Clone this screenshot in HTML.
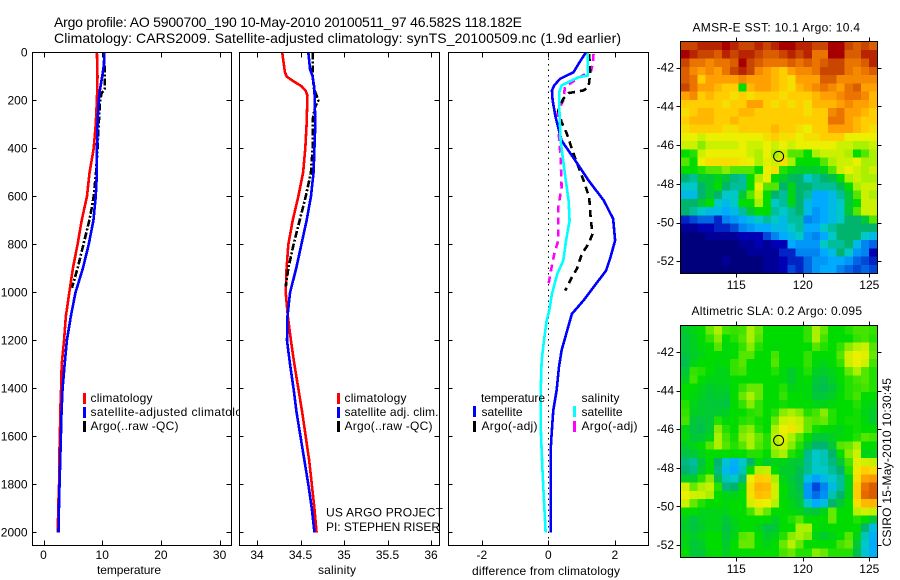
<!DOCTYPE html>
<html lang="en">
<head>
<meta charset="utf-8">
<title>Argo profile 5900700_190</title>
<style>
html,body{margin:0;padding:0;background:#fff;width:900px;height:580px;overflow:hidden}
svg{display:block;font-family:"Liberation Sans",sans-serif;font-size:12px;fill:#000}
text{fill:#000}
.ttl{font-size:14px}
.crisp{shape-rendering:crispEdges}
</style>
</head>
<body>
<svg id="chart" xmlns="http://www.w3.org/2000/svg" width="900" height="580" viewBox="0 0 900 580">
  <rect x="0" y="0" width="900" height="580" fill="#fff"/>
  <text class="ttl" x="54" y="27" textLength="468">Argo profile: AO 5900700_190 10-May-2010 20100511_97 46.582S 118.182E</text>
  <text class="ttl" x="54" y="43" textLength="567">Climatology: CARS2009. Satellite-adjusted climatology: synTS_20100509.nc (1.9d earlier)</text>

  <g id="p1">
    <rect x="32.5" y="52.5" width="199" height="493" fill="#fff"/>
    <g id="p1-series"></g>
    <g id="p1-axis"></g>
    <text x="129" y="574" text-anchor="middle" textLength="64">temperature</text>
    <rect x="83" y="393" width="3" height="11" fill="#f00" class="crisp"/>
    <rect x="83" y="407" width="3" height="11" fill="#00f" class="crisp"/>
    <rect x="83" y="421" width="3" height="11" fill="#000" class="crisp"/>
    <text x="90.5" y="402" textLength="62">climatology</text>
    <text x="90.5" y="416" textLength="165">satellite-adjusted climatology</text>
    <text x="90.5" y="430" textLength="88">Argo(..raw -QC)</text>
  </g>

  <g id="p2">
    <rect x="239.5" y="52.5" width="200" height="493" fill="#fff"/>
    <g id="p2-series"></g>
    <g id="p2-axis"></g>
    <text x="337" y="574" text-anchor="middle" textLength="38">salinity</text>
    <rect x="337" y="393" width="3" height="11" fill="#f00" class="crisp"/>
    <rect x="337" y="407" width="3" height="11" fill="#00f" class="crisp"/>
    <rect x="337" y="421" width="3" height="11" fill="#000" class="crisp"/>
    <text x="344.5" y="402" textLength="62">climatology</text>
    <text x="344.5" y="416" textLength="94">satellite adj. clim.</text>
    <text x="344.5" y="430" textLength="88">Argo(..raw -QC)</text>
    <text x="326" y="516.5" textLength="117">US ARGO PROJECT</text>
    <text x="326" y="531" textLength="114">PI: STEPHEN RISER</text>
  </g>

  <g id="p3">
    <rect x="448.5" y="52.5" width="200" height="493" fill="#fff"/>
    <line x1="548.5" y1="53" x2="548.5" y2="545" stroke="#000" stroke-width="1" stroke-dasharray="1.5 4" class="crisp"/>
    <g id="p3-series"></g>
    <g id="p3-axis"></g>
    <text x="546" y="575" text-anchor="middle" textLength="148">difference from climatology</text>
    <text x="481" y="402" textLength="64">temperature</text>
    <text x="481.5" y="416" textLength="41">satellite</text>
    <text x="481.5" y="430" textLength="56">Argo(-adj)</text>
    <text x="581.5" y="402" textLength="38">salinity</text>
    <text x="581.5" y="416" textLength="41">satellite</text>
    <text x="581.5" y="430" textLength="56">Argo(-adj)</text>
    <rect x="473" y="406" width="3" height="11" fill="#00f" class="crisp"/>
    <rect x="473" y="421" width="3" height="11" fill="#000" class="crisp"/>
    <rect x="573" y="406" width="3" height="11" fill="#0ff" class="crisp"/>
    <rect x="573" y="421" width="3" height="11" fill="#f0f" class="crisp"/>
  </g>

  <g id="m1">
    <text x="692.5" y="31.5" textLength="167.5">AMSR-E SST: 10.1 Argo: 10.4</text>
    <g id="m1-cells"></g>
    <g id="m1-axis"></g>
  </g>
  <g id="m2">
    <text x="691.5" y="315" textLength="170.5">Altimetric SLA: 0.2 Argo: 0.095</text>
    <g id="m2-cells"></g>
    <g id="m2-axis"></g>
  </g>
  <text transform="translate(891,546.5) rotate(-90)" textLength="168.5">CSIRO 15-May-2010 10:30:45</text>
</svg>

<script>
// ---- tick labels
const depthTicks = [0, 200, 400, 600, 800, 1000, 1200, 1400, 1600, 1800, 2000];
const tempTicks = [0, 10, 20, 30];
const salTicks = [34, 34.5, 35, 35.5, 36];
const salTickLabels = ['34', '34.5', '35', '35.5', '36'];
const diffTicks = [-2, 0, 2];
const lonTicks = [115, 120, 125];
const latTicks = [-42, -44, -46, -48, -50, -52];

// ---- temperature profiles
const profileDepths = [0, 100, 200, 300, 400, 450, 500, 600, 700, 800, 900, 1000, 1100, 1200, 1300, 1400, 1500, 1600, 1700, 1800, 1900, 2000];
const tempClimatology = [9.1, 9.2, 9.1, 8.9, 8.55, 8.2, 7.85, 7.4, 6.5, 5.8, 5.0, 4.4, 3.8, 3.5, 3.1, 3.0, 2.85, 2.8, 2.65, 2.65, 2.5, 2.45];
const tempSatelliteDepths = [0, 50, 100, 150, 200, 300, 400, 500, 600, 650, 700, 800, 900, 1000, 1100, 1200, 1300, 1400, 1500, 1600, 1700, 1800, 1900, 2000];
const tempSatellite = [10.35, 10.3, 10.0, 9.65, 9.4, 9.2, 9.1, 9.1, 8.9, 8.7, 8.5, 7.7, 6.7, 5.45, 4.65, 3.98, 3.6, 3.25, 3.07, 2.96, 2.85, 2.73, 2.63, 2.55];
const argoDepths = [0, 150, 170, 200, 300, 400, 500, 600, 650, 700, 800, 900, 980];
const tempArgo = [10.35, 10.45, 9.9, 9.65, 9.4, 9.2, 8.95, 8.55, 8.2, 7.8, 6.8, 5.8, 4.85];

// ---- salinity profiles
const salClimDepths = [0, 80, 100, 120, 140, 160, 180, 300, 400, 500, 600, 700, 800, 900, 1000, 1100, 1200, 1300, 1400, 1500, 1600, 1700, 1800, 1900, 2000];
const salClimatology = [34.29, 34.32, 34.34, 34.42, 34.51, 34.56, 34.58, 34.57, 34.555, 34.53, 34.475, 34.41, 34.36, 34.34, 34.33, 34.355, 34.39, 34.43, 34.475, 34.52, 34.56, 34.6, 34.63, 34.66, 34.685];
const salSatDepths = [0, 70, 100, 150, 300, 400, 500, 600, 700, 800, 900, 1000, 1100, 1200, 1300, 1400, 1500, 1600, 1700, 1800, 1900, 2000];
const salSatellite = [34.59, 34.61, 34.64, 34.66, 34.67, 34.66, 34.65, 34.62, 34.57, 34.51, 34.45, 34.38, 34.35, 34.345, 34.38, 34.42, 34.455, 34.5, 34.545, 34.59, 34.63, 34.66];
const salArgoDepths = [0, 100, 150, 200, 230, 280, 400, 500, 600, 700, 800, 900, 975];
const salArgo = [34.64, 34.64, 34.655, 34.705, 34.665, 34.64, 34.64, 34.62, 34.56, 34.49, 34.42, 34.36, 34.33];

// ---- differences from climatology
const diffTempSatDepths = [0, 47, 82, 110, 137, 158, 200, 270, 367, 450, 533, 617, 693, 783, 853, 908, 978, 1033, 1089, 1172, 1241, 1311, 1408, 1491, 1589, 1658, 2000];
const diffTempSat = [1.13, 0.91, 0.76, 0.35, 0.18, 0.11, 0.13, 0.22, 0.40, 0.81, 1.21, 1.67, 1.95, 2.01, 1.87, 1.74, 1.36, 1.06, 0.71, 0.54, 0.40, 0.32, 0.25, 0.15, 0.10, 0.07, 0.07];
const diffSalSatDepths = [0, 96, 103, 137, 165, 228, 367, 506, 617, 700, 783, 867, 922, 1005, 1075, 1116, 1200, 1283, 1422, 1589, 1727, 1866, 2000];
const diffSalSat = [1.19, 1.19, 0.91, 0.40, 0.33, 0.33, 0.37, 0.50, 0.61, 0.64, 0.535, 0.45, 0.27, 0.11, 0.03, -0.05, -0.13, -0.20, -0.23, -0.22, -0.18, -0.13, -0.08];
const diffTempArgoDepths = [6, 89, 144, 158, 169, 193, 242, 290, 339, 422, 533, 603, 700, 756, 797, 839, 901, 936, 992];
const diffTempArgo = [1.23, 1.26, 1.21, 1.06, 0.61, 0.45, 0.30, 0.40, 0.56, 0.76, 1.06, 1.23, 1.28, 1.33, 1.21, 1.01, 0.86, 0.71, 0.51];
const diffSalArgoDepths = [6, 47, 75, 110, 144, 200, 249, 311, 436, 561, 644, 783, 839, 894, 971];
const diffSalArgo = [1.36, 1.34, 1.29, 0.86, 0.50, 0.45, 0.28, 0.30, 0.37, 0.40, 0.30, 0.30, 0.18, 0.10, 0.0];

// ---- float position
const argoLon = 118.182;
const argoLat = -46.582;

// ---- colour-scale level for each map cell (row = north to south)
const sstGrid = [
[13,13,13.5,13.5,13.5,14,13.5,13,13,13.5,13,13.5,14,14,13.5,13.5,13,13,14,14,13,12.5,13,12.5],
[14,13.5,13,13,12.5,13.5,13,13.5,13.5,13,12.5,12.5,13,13.5,13,13.5,12,12,14,14,12.5,12.5,13.5,13.5],
[13,12,12,11.5,12,12,12.5,14,13,12.5,12,12,12,12.5,12,12.5,12,12.5,13,13,12,12,12.5,13.5],
[12.5,11.5,11,11.5,11,12,13,13.5,13,11.5,11,10.5,10,11,11.5,11.5,12,13,13,13,12,11.5,12,12.5],
[12.5,12,10,11,11,11,11,11.5,11,11,11,10.5,10,9.5,11,11,11,12.5,12.5,11.5,11.5,11.5,11.5,11.5],
[13,12,11,11,10.5,10,10,7,10.5,11,11,10.5,10,9.5,10.5,11,11.5,12,11.5,11,12,12.5,11,11],
[11,11.5,10,10.5,10,10,9.5,10,9.5,10,10,10,9.5,10,10,10,10.5,11,11,11.5,12,12,11.5,10.5],
[10,10,10,10,10,9.5,10,10,11,11,10,9.5,10,9.5,10,9.5,10.5,10.5,10.5,11,11.5,11,11,10.5],
[9.5,10,10.5,10.5,10,10,10,10.5,10.5,10,10,10,10,10,10,9.5,10,10,11.5,12,11,11,10.5,10],
[10,10.5,10.5,10.5,10,10,10.5,10,10,10,10,10,10,10,10,10,10,10,12,12,11,10.5,10,10],
[9.5,10,10,10,10,9.5,9.5,10,10,10,10,10.5,10,10,9.5,9,10,10,11,11,11,10.5,10,9.5],
[9,9,8.5,9,9,9,9,9,9,9,9.5,10,9.5,9.5,9,9.5,9.5,10,10,10,9,9,9,9],
[8.5,8.5,7.8,8.5,8.5,8.5,8.5,9,8.5,8.5,9,8.5,9,8.5,9,9,9,9,9,8.5,8.5,8,8,8.5],
[7,7.2,8.5,9,9,9,9,9,8.5,8,9,8,8.5,7.5,7.5,7,8,8.5,8.5,8.5,8,7,7.5,8],
[7.5,7,9,9.5,9.5,9.5,9.5,9.2,9,8,8.8,8.5,9.5,8,7,7,7,7.5,8,8.5,8.5,9,8,8],
[7,7,7.2,7.5,7.5,7.8,7.5,7.5,7.5,7,9,9.5,7.2,6.8,6.6,6.6,6.6,6.8,7.5,8.5,9,8.5,8,8.5],
[6,5.5,6.5,6.5,6.8,6.5,5.8,5.5,7,8,9,7,6.6,6.2,6,5,5.5,6,6.3,7,8,8.5,8,8],
[5,5,6,6.5,7,6,5.5,5.5,7,9,7.5,7.5,6,6.8,6,6,5.5,5.5,5.5,6.2,7,8,8.5,8.5],
[4.5,4.5,6,6.5,6,5,5,6.5,7.5,8.5,7,6,5.5,6.8,6,5.5,4,4,4.5,5.5,6.5,7.5,8.5,8],
[6,6,6.5,7,5,4.5,5,7,7,8,7,5,5.5,6.8,6,4.5,4,4,4.5,5,6.5,7,8.5,8.5],
[6,5.5,5,4.5,4.5,4,4.5,5.5,6.5,7,7,5.5,5,5.5,6,4.5,3.5,4,4.5,5,6.5,7.5,8.5,8.5],
[1.5,2,2.5,2.5,1.5,3,3.5,4,4.5,5,5.5,5,4.5,5.5,5.5,3,3.5,4,4.5,5,6,6,6.5,7.5],
[0.5,0.5,1,1,1.5,1.5,2,3,3.5,4,4,4.5,4.5,5,5.5,4,4,5,5.5,6,6,6,6,6],
[0,0,0,0.5,0.5,0.5,0.5,1,1,1,2,3,4,4.5,5,3.5,3,4,5,6,6,6,5,4.5],
[0,0,0,0,0,0,0,0.5,0.5,1,0.5,1,1,4,3.5,3.5,3.5,5,5.5,5.5,6,4.5,3,2.5],
[0,0,0,0,0,0,0,0,0.5,0.5,0.5,0.5,1.5,1.5,3,3,3,4,4.5,6,5,3.5,3,1],
[0,0,0,0,0,0.5,0,0,0,0,0.5,0.5,1,1.5,1.5,2.5,3.5,3.5,4,4,3.5,2.5,2,1.5],
[0,0,0,0,0,0,0,0,0,0,0.5,0.5,1,2,1.5,2.5,3.5,4,4,3,2.5,2,2.5,2]
];
const slaGrid = [
[6.6,6.8,7,7.6,8,7.4,7.3,7.4,8,7.6,7,7,7,7,7,7.3,8,7.6,7,7,7.2,7.4,7.4,7.3],
[6.5,6.7,7,7.3,7.8,7,7.2,7.5,8,7.5,7,7,7,7,7,7.3,8,7.4,7,7,7,7.3,7.4,7.2],
[6.5,6.7,6.9,7,7.5,6.9,7,7.3,7.8,7.2,7,6.9,7,7,7,7,7.5,7.2,7,7.3,7.8,8.2,8.5,7.5],
[6.4,6.6,6.8,7,7,6.9,7,7.5,7.5,7,7,7.4,7,7,7,7.3,7,7,7,7.5,8.6,9,8.8,7.6],
[6.3,6.8,7,7,6.9,7,7.3,7.5,7,7,7,7.5,7,7,7,7.3,6.9,6.8,7,7.3,8.5,9,8.6,7.4],
[6.5,7.3,7.2,7,6.8,6.8,7.3,7.4,7,7,7,7.2,6.9,6.6,6.9,7.2,6.7,6.6,6.8,7,7.6,8,7.5,7.2],
[6.7,7.4,7,6.8,6.8,6.8,7,7,7,7,7,7,6.9,6.6,6.9,7,6.5,6.4,6.7,7,7.2,7.4,7.5,7.2],
[7,7,6.8,6.6,6.7,6.7,7,7.3,7.6,7.6,7,7,7.2,6.8,6.9,6.9,6.4,6.3,6.5,6.9,7.2,7.3,7.4,7.2],
[7,6.9,6.7,6.5,6.6,6.5,7,7.6,8,7.6,7,7,7.3,7,7,6.9,6.5,6.5,6.7,7,7.2,7.4,7,7],
[7.2,6.8,6.6,6.5,6.5,6.4,7,7.3,7.8,7.3,7,7,7.1,7,7,7,6.8,6.8,6.9,7,7,7.2,6.9,6.8],
[7.3,6.7,6.6,6.5,6.6,6.7,7,7,7.2,7.3,7,7.2,7.8,8,7.8,7.2,7.4,7.8,7.2,7,7,7.1,6.8,6.6],
[7.4,6.5,6.4,6.5,7.2,6.9,7,7.2,7.3,7.1,7,7.6,8.5,8.7,8.4,7.6,7.5,7.6,7.2,7,7.1,7.1,6.9,6.6],
[6.8,6.4,6.3,6.6,7.8,7.2,7,7.6,7.8,7.2,7,8,9,9.3,8.6,7.6,7.1,7,6.9,6.8,7,7.1,7,7],
[6.9,6.5,6.5,6.8,8,7.4,7.1,7.8,8,7.6,7.2,8.2,8.8,8,7.5,7,6.5,6.5,6.7,6.9,7,7.2,7.5,7.4],
[6.6,6.8,7,7.5,8,7.5,7.2,7.5,8,7.5,7.2,8,8.5,7.8,7.2,6.5,6,6,6.5,7.5,7.6,8,7,7],
[6.4,6.5,6.8,7,7,7,7,7,7.2,7.2,7,7.8,8,7.2,6.9,5.7,5,5.2,6,7,7.8,8.5,6.8,6.8],
[5.8,5.5,6.4,7,6,4.8,4.2,5,6,7,6.6,6.8,6.8,6.6,6.5,5.6,5,5.2,5.8,6.5,7.4,8.8,8.6,8.4],
[6,5.7,6.6,7,5.8,4.5,4,5.2,7,8.2,8.4,7,6.6,6.6,6.3,5.6,5,5,5.5,6,7.2,9.2,10,9.6],
[6.6,6.6,7.2,7.8,6.3,5.2,5,5.8,9,10,9.8,8,6.8,6.5,6.2,4.6,3.8,4.5,5,5.5,6.8,9.5,11,11.2],
[8.6,7.6,8,8.4,7.2,5.8,6,6.8,9.5,10.6,10.5,8.6,7,6.6,6.3,3.5,2,3,4.5,5.5,6.8,10,12,12.5],
[9,8.6,8.5,8,7,6.8,6.8,7,9.4,10.3,10.2,8.6,7,6.6,6.4,3.5,2.6,3.3,5.3,6,6.8,10,12.2,12.5],
[8.5,7.6,7.2,7,7,6.9,7,7,8.6,9.2,9,8.2,7,6.8,6.5,5,4,4.6,6,6.5,7,9.5,10.5,10.5],
[7,7,6.8,6.8,6.8,6.8,7,7,7.4,8,7.6,7,7,6.9,6.8,6.5,6.5,6.8,7.6,7,7,8.2,8.6,8.4],
[6.7,6.4,6.7,6.8,6.8,6.5,6.8,7,7,7,7,6.7,7,7.2,7.5,7,7,7,7.6,7,7,7.2,7,6.5],
[6.6,6.4,6.6,6.8,6.8,6.4,6.7,7,7,6.8,6.4,6.5,7,7,8,8,7,6.9,7,7,7,7,6,4.6],
[6.8,6.6,6.8,7,7,6.5,6.8,7.5,7.6,7,6.6,6.8,7.2,7.8,8,7.8,6.8,6.6,6.8,7,7.5,6.8,5.2,4.2],
[6.8,6.5,6.6,7,7,6.6,7,7.6,7.6,7,6.8,7,7.6,8.2,7.6,7,7,7,7,7.4,7.6,6.5,5,4],
[7,6.5,6.5,6.9,7,6.7,7,7,7,7,7,7,7.4,7.6,7.2,7.2,7.8,7.6,7.2,7.2,7.2,6.3,4.8,4.2]
];

// ---- axis functions
const yDepth = d => 52.5 + 0.24 * d;
const xTemp = v => 43.5 + 5.87 * v;
const xSal = v => 257 + 87 * (v - 34);
const xDiff = v => 548.3 + 33.25 * v;
const mapLon = v => 736.3 + 13.3 * (v - 115);
const lonLeft = 110.85, lonRight = 125.6;
const lat1 = v => 67.7 + 19.35 * (-42 - v);
const lat2 = v => 352 + 19.3 * (-42 - v);
const colorStops = ['#00007c','#0000b4','#0048d8','#0084f0','#00aaff','#00c8c8','#00b46e','#00dc00','#aaf000','#ebf000','#ffcd00','#ffa000','#eb7300','#c84600','#a80000'];

const NS = 'http://www.w3.org/2000/svg';
const svgEl = t => document.createElementNS(NS, t);

function hexRgb(h) { return [1, 3, 5].map(i => parseInt(h.slice(i, i + 2), 16)); }
function levelColor(v) {
  const c = Math.max(0, Math.min(colorStops.length - 1, v));
  const lo = Math.floor(c), hi = Math.min(colorStops.length - 1, lo + 1), f = c - lo;
  const a = hexRgb(colorStops[lo]), b = hexRgb(colorStops[hi]);
  return 'rgb(' + a.map((x, i) => Math.round(x + (b[i] - x) * f)).join(',') + ')';
}

function drawLine(parentId, xs, depths, xFn, color, width, dash, name) {
  const p = svgEl('polyline');
  
  
  p.setAttribute('points', xs.map((v, i) => xFn(v).toFixed(2) + ',' + yDepth(depths[i]).toFixed(2)).join(' '));
  p.setAttribute('fill', 'none');
  p.setAttribute('stroke', color);
  p.setAttribute('stroke-width', width);
  p.setAttribute('stroke-linejoin', 'miter');
  p.setAttribute('shape-rendering', 'crispEdges');
  if (dash) p.setAttribute('stroke-dasharray', dash);
  document.getElementById(parentId).appendChild(p);
}

function drawPanelAxes(gid, x0, x1, xTicks, xLabels, xFn, yLabels) {
  const g = document.getElementById(gid);
  const y0 = 52.5, y1 = 545.5;
  const frame = svgEl('rect');
  
  
  frame.setAttribute('x', x0);
  frame.setAttribute('y', y0);
  frame.setAttribute('width', x1 - x0);
  frame.setAttribute('height', y1 - y0);
  frame.setAttribute('fill', 'none');
  frame.setAttribute('stroke', '#000');
  frame.setAttribute('shape-rendering', 'crispEdges');
  g.appendChild(frame);
  xTicks.forEach((t, i) => {
    const x = Math.round(xFn(t)) + 0.5;
    [[y0, y0 + 5], [y1, y1 - 5]].forEach(seg => {
      const k = svgEl('line');
      
      
      k.setAttribute('x1', x);
      k.setAttribute('x2', x);
      k.setAttribute('y1', seg[0]);
      k.setAttribute('y2', seg[1]);
      k.setAttribute('stroke', '#000');
      k.setAttribute('shape-rendering', 'crispEdges');
      g.appendChild(k);
    });
    const lab = svgEl('text');
    
    
    lab.setAttribute('x', xFn(t));
    lab.setAttribute('y', 559);
    lab.setAttribute('text-anchor', 'middle');
    lab.textContent = xLabels[i];
    g.appendChild(lab);
  });
  depthTicks.forEach(d => {
    const y = Math.round(yDepth(d) - 0.5) + 0.5;
    [[x0, x0 + 4], [x1, x1 - 5]].forEach(seg => {
      const k = svgEl('line');
      
      
      k.setAttribute('x1', seg[0]);
      k.setAttribute('x2', seg[1]);
      k.setAttribute('y1', y);
      k.setAttribute('y2', y);
      k.setAttribute('stroke', '#000');
      k.setAttribute('shape-rendering', 'crispEdges');
      g.appendChild(k);
    });
    if (yLabels) {
      const lab = svgEl('text');
      
      
      lab.setAttribute('x', 27.5);
      lab.setAttribute('y', yDepth(d) + 4);
      lab.setAttribute('text-anchor', 'end');
      lab.textContent = String(d);
      g.appendChild(lab);
    }
  });
}

function drawMap(cellsId, axisId, grid, latFn, top, bottom, cellName) {
  const cg = document.getElementById(cellsId);
  const rows = grid.length, cols = grid[0].length;
  const latTop = -42 - (top + 1 - latFn(-42)) / 19.33;
  const latBottom = -42 - (bottom - latFn(-42)) / 19.33;
  const lonSpan = lonRight - lonLeft, latSpan = latTop - latBottom;
  grid.forEach((row, r) => row.forEach((v, c) => {
    const xa = mapLon(lonLeft + lonSpan * c / cols), xb = mapLon(lonLeft + lonSpan * (c + 1) / cols);
    const ya = latFn(latTop - latSpan * r / rows), yb = latFn(latTop - latSpan * (r + 1) / rows);
    const cell = svgEl('rect');
    
    
    cell.setAttribute('x', xa.toFixed(2));
    cell.setAttribute('y', ya.toFixed(2));
    cell.setAttribute('width', (xb - xa + 0.4).toFixed(2));
    cell.setAttribute('height', (yb - ya + 0.4).toFixed(2));
    cell.setAttribute('fill', levelColor(v));
    cell.setAttribute('shape-rendering', 'crispEdges');
    cg.appendChild(cell);
  }));
  const g = document.getElementById(axisId);
  const x0 = 680.5, x1 = 877.5, y0 = top + 0.5, y1 = bottom + 0.5;
  const frame = svgEl('rect');
  
  
  frame.setAttribute('x', x0);
  frame.setAttribute('y', y0);
  frame.setAttribute('width', x1 - x0);
  frame.setAttribute('height', y1 - y0);
  frame.setAttribute('fill', 'none');
  frame.setAttribute('stroke', '#000');
  frame.setAttribute('shape-rendering', 'crispEdges');
  g.appendChild(frame);
  lonTicks.forEach(t => {
    const x = Math.round(mapLon(t)) + 0.5;
    [[y0, y0 - 4], [y1, y1 + 4]].forEach(seg => {
      const k = svgEl('line');
      
      
      k.setAttribute('x1', x);
      k.setAttribute('x2', x);
      k.setAttribute('y1', seg[0]);
      k.setAttribute('y2', seg[1]);
      k.setAttribute('stroke', '#000');
      k.setAttribute('shape-rendering', 'crispEdges');
      g.appendChild(k);
    });
    const lab = svgEl('text');
    
    
    lab.setAttribute('x', mapLon(t));
    lab.setAttribute('y', bottom + 16);
    lab.setAttribute('text-anchor', 'middle');
    lab.textContent = String(t);
    g.appendChild(lab);
  });
  latTicks.forEach(t => {
    const y = Math.round(latFn(t)) + 0.5;
    [[x0, x0 - 4], [x1, x1 + 4]].forEach(seg => {
      const k = svgEl('line');
      
      
      k.setAttribute('x1', seg[0]);
      k.setAttribute('x2', seg[1]);
      k.setAttribute('y1', y);
      k.setAttribute('y2', y);
      k.setAttribute('stroke', '#000');
      k.setAttribute('shape-rendering', 'crispEdges');
      g.appendChild(k);
    });
    const lab = svgEl('text');
    
    
    lab.setAttribute('x', 674);
    lab.setAttribute('y', latFn(t) + 4);
    lab.setAttribute('text-anchor', 'end');
    lab.textContent = String(t);
    g.appendChild(lab);
  });
  const dot = svgEl('circle');
  
  
  dot.setAttribute('cx', mapLon(argoLon).toFixed(2));
  dot.setAttribute('cy', latFn(argoLat).toFixed(2));
  dot.setAttribute('r', 5);
  dot.setAttribute('fill', 'none');
  dot.setAttribute('stroke', '#000');
  g.appendChild(dot);
}

// ---- panel 1
drawLine('p1-series', tempClimatology, profileDepths, xTemp, '#f00', 2.6, null, 'temperature-climatology-line');
drawLine('p1-series', tempArgo, argoDepths, xTemp, '#000', 2.6, '7 2 2 2', 'temperature-argo-line');
drawLine('p1-series', tempSatellite, tempSatelliteDepths, xTemp, '#00f', 2.6, null, 'temperature-satellite-line');
drawPanelAxes('p1-axis', 32.5, 231.5, tempTicks, tempTicks, xTemp, true);

// ---- panel 2
drawLine('p2-series', salClimatology, salClimDepths, xSal, '#f00', 2.6, null, 'salinity-climatology-line');
drawLine('p2-series', salArgo, salArgoDepths, xSal, '#000', 2.6, '7 2 2 2', 'salinity-argo-line');
drawLine('p2-series', salSatellite, salSatDepths, xSal, '#00f', 2.6, null, 'salinity-satellite-line');
drawPanelAxes('p2-axis', 239.5, 439.5, salTicks, salTickLabels, xSal, false);

// ---- panel 3
drawLine('p3-series', diffSalArgo, diffSalArgoDepths, xDiff, '#f0f', 2.6, '7 5', 'difference-salinity-argo-line');
drawLine('p3-series', diffTempArgo, diffTempArgoDepths, xDiff, '#000', 2.6, '7 5', 'difference-temperature-argo-line');
drawLine('p3-series', diffTempSat, diffTempSatDepths, xDiff, '#00f', 2.6, null, 'difference-temperature-satellite-line');
drawLine('p3-series', diffSalSat, diffSalSatDepths, xDiff, '#0ff', 2.6, null, 'difference-salinity-satellite-line');
drawPanelAxes('p3-axis', 448.5, 648.5, diffTicks, diffTicks, xDiff, false);

// ---- maps
drawMap('m1-cells', 'm1-axis', sstGrid, lat1, 41, 273, 'sst-cell');
drawMap('m2-cells', 'm2-axis', slaGrid, lat2, 325, 557, 'sla-cell');
</script>
</body>
</html>
